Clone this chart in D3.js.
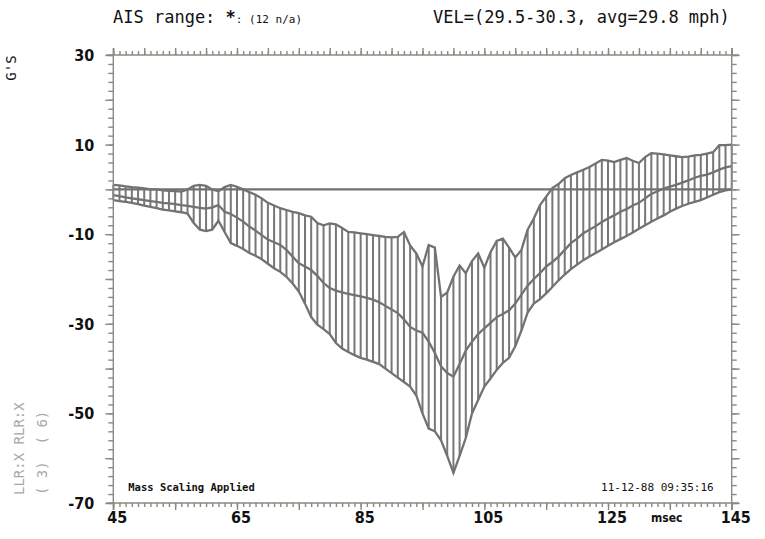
<!DOCTYPE html>
<html>
<head>
<meta charset="utf-8">
<script src="https://cdn.jsdelivr.net/npm/d3@7"></script>
<style>
  body { margin: 0; background: #fff; }
  svg { display: block; }
  .axis path, .axis line { stroke: #8a8a80; stroke-width: 1.4; }
  .band { fill: none; stroke: #727272; stroke-width: 2.3; }
  .hatch { stroke: #777; stroke-width: 2; }
  .lbl { font-family: "DejaVu Sans Condensed", "DejaVu Sans", sans-serif; font-weight: bold; font-size: 16px; fill: #111; }
  .mono { font-family: "DejaVu Sans Mono", monospace; fill: #111; }
</style>
</head>
<body>
<script>
// set the dimensions and margins of the graph
var W = 765, H = 539;
var margin = {top: 55, right: 33.3, bottom: 36, left: 113.3},
    width = W - margin.left - margin.right,
    height = H - margin.top - margin.bottom;

// time in msec (one sample per msec)
var msec = d3.range(45, 146);

// upper edge of the corridor (G's)
var upper = [1.0, 0.9, 0.7, 0.5, 0.4, 0.2, 0.0, 0.0, -0.2, -0.3,
  -0.4, -0.5, 0.0, 0.8, 1.0, 0.8, 0.0, -0.4, 0.5, 1.0,
  0.6, 0.0, -0.6, -1.2, -2.0, -3.0, -3.6, -4.2, -4.6, -5.0,
  -5.3, -5.8, -6.1, -7.5, -8.0, -7.6, -7.8, -8.6, -9.5, -9.6,
  -9.8, -10.0, -10.2, -10.4, -10.6, -10.7, -10.6, -9.5, -12.5, -14.3,
  -17.2, -12.4, -13.0, -24.0, -23.0, -19.5, -17.0, -18.7, -16.0, -14.3,
  -17.5, -14.0, -11.5, -11.0, -13.0, -15.2, -13.5, -9.0, -6.5, -3.5,
  -1.6, 0.3, 1.2, 2.5, 3.2, 3.8, 4.4, 5.0, 5.8, 6.6,
  6.4, 6.1, 6.6, 7.0, 6.4, 5.9, 7.2, 8.1, 8.0, 7.8,
  7.6, 7.4, 7.2, 7.3, 7.6, 7.7, 8.0, 8.3, 9.9, 9.9, 10.0];

// middle trace
var middle = [-1.3, -1.5, -1.8, -2.0, -2.2, -2.4, -2.6, -2.8, -3.0, -3.1,
  -3.3, -3.5, -3.7, -3.9, -4.1, -4.3, -4.0, -3.5, -5.0, -5.5,
  -6.3, -7.2, -8.3, -9.2, -10.2, -11.2, -11.8, -12.4, -13.5, -15.0,
  -16.5, -17.2, -18.0, -19.3, -20.9, -22.0, -22.6, -23.0, -23.3, -23.6,
  -23.9, -24.2, -24.6, -25.2, -26.0, -26.8, -27.6, -29.0, -30.7, -31.5,
  -32.0, -34.0, -36.5, -39.5, -41.0, -41.8, -39.0, -36.0, -34.0, -32.3,
  -31.0, -29.8, -28.5, -27.8, -27.0, -25.5, -23.5, -21.5, -20.0, -18.7,
  -17.2, -16.2, -15.0, -13.5, -12.0, -11.0, -9.8, -9.0, -8.2, -7.3,
  -6.5, -5.8, -5.0, -4.4, -3.6, -3.0, -2.0, -1.0, -0.4, 0.2,
  0.6, 1.0, 1.5, 2.0, 2.6, 3.0, 3.3, 3.8, 4.4, 4.9, 5.2];

// lower edge of the corridor
var lower = [-2.4, -2.6, -2.8, -3.0, -3.3, -3.6, -3.9, -4.2, -4.5, -4.7,
  -4.9, -5.1, -5.4, -7.5, -9.0, -9.3, -9.0, -7.0, -9.5, -12.0,
  -12.6, -13.3, -14.2, -14.8, -15.6, -16.6, -17.6, -18.4, -19.5, -21.0,
  -22.8, -25.5, -28.5, -30.2, -31.2, -32.3, -34.3, -35.5, -36.3, -37.0,
  -37.6, -38.0, -38.5, -39.0, -40.0, -41.0, -42.0, -43.0, -44.0, -46.0,
  -50.0, -53.4, -54.0, -56.0, -59.5, -63.3, -59.5, -55.5, -50.0, -47.0,
  -44.0, -42.2, -40.3, -38.7, -37.6, -35.0, -31.5, -27.5, -25.5, -24.5,
  -23.2, -21.8, -20.3, -19.0, -17.8, -16.8, -15.8, -15.0, -14.2, -13.4,
  -12.6, -11.8, -11.1, -10.4, -9.6, -8.8, -8.0, -7.2, -6.5, -5.8,
  -5.0, -4.3, -3.7, -3.2, -2.8, -2.4, -1.8, -1.2, -0.6, -0.2, 0.0];

var xLabels = [45, 65, 85, 105, 125, 145];
var yLabels = [30, 10, -10, -30, -50, -70];

// set the ranges
var x = d3.scaleLinear().domain([45, 145]).range([0, width]);
var y = d3.scaleLinear().domain([-70, 30]).range([height, 0]);

var root = d3.select("body").append("svg")
    .attr("width", W)
    .attr("height", H);

var svg = root.append("g")
    .attr("transform", "translate(" + margin.left + "," + margin.top + ")");

var data = msec.map(function(t, i) {
    return {t: t, hi: upper[i], mid: middle[i], lo: lower[i]};
});

// vertical hatching between the two edges
svg.selectAll(".hatch")
    .data(data)
    .enter().append("line")
    .attr("class", "hatch")
    .attr("x1", function(d) { return x(d.t); })
    .attr("x2", function(d) { return x(d.t); })
    .attr("y1", function(d) { return y(d.hi); })
    .attr("y2", function(d) { return y(d.lo); });

// zero line
svg.append("line")
    .attr("class", "band")
    .attr("x1", x(45)).attr("x2", x(145))
    .attr("y1", y(0)).attr("y2", y(0));

["hi", "mid", "lo"].forEach(function(k) {
    svg.append("path")
        .datum(data)
        .attr("class", "band")
        .attr("d", d3.line()
            .x(function(d) { return x(d.t); })
            .y(function(d) { return y(d[k]); }));
});

// axes: minor + major ticks, all pointing outward
function ticks(axisFn, scale, step, size, tr) {
    var dom = scale.domain();
    var lo = Math.min(dom[0], dom[1]), hi = Math.max(dom[0], dom[1]);
    var g = svg.append("g")
        .attr("class", "axis")
        .attr("transform", tr || null)
        .call(axisFn(scale)
            .tickValues(d3.range(lo, hi + 0.001, step))
            .tickSize(size)
            .tickSizeOuter(0)
            .tickFormat(""));
    g.select(".domain").remove();
}

ticks(d3.axisTop, x, 1, 4);
ticks(d3.axisTop, x, 5, 7);
ticks(d3.axisBottom, x, 1, 4, "translate(0," + height + ")");
ticks(d3.axisBottom, x, 10, 7, "translate(0," + height + ")");
ticks(d3.axisLeft, y, 2, 5);
ticks(d3.axisLeft, y, 10, 8);
ticks(d3.axisRight, y, 2, 5, "translate(" + width + ",0)");
ticks(d3.axisRight, y, 10, 8, "translate(" + width + ",0)");

// frame, a little overhang at the corners
var ov = 7;
var frame = svg.append("g").attr("class", "axis");
frame.append("line").attr("x1", -ov).attr("x2", width + ov).attr("y1", 0).attr("y2", 0);
frame.append("line").attr("x1", -ov).attr("x2", width + ov).attr("y1", height).attr("y2", height);
frame.append("line").attr("x1", 0).attr("x2", 0).attr("y1", -ov).attr("y2", height + ov);
frame.append("line").attr("x1", width).attr("x2", width).attr("y1", -ov).attr("y2", height + ov);

// tick labels
svg.selectAll(".xl")
    .data(xLabels)
    .enter().append("text")
    .attr("class", "lbl")
    .attr("x", function(d) { return x(d) + 4; })
    .attr("y", height + 20)
    .attr("text-anchor", "middle")
    .text(function(d) { return d; });

svg.selectAll(".yl")
    .data(yLabels)
    .enter().append("text")
    .attr("class", "lbl")
    .attr("x", -19)
    .attr("y", function(d) { return y(d) + 6; })
    .attr("text-anchor", "end")
    .text(function(d) { return d; });

svg.append("text")
    .attr("class", "lbl")
    .style("font-size", "12px")
    .attr("x", x(134.5))
    .attr("y", height + 19)
    .attr("text-anchor", "middle")
    .text("msec");

// annotations inside the plot
svg.append("text")
    .attr("class", "mono")
    .style("font-size", "10.5px").style("font-weight", "bold")
    .attr("x", 15).attr("y", y(-67.4))
    .text("Mass Scaling Applied");

svg.append("text")
    .attr("class", "mono")
    .style("font-size", "11px")
    .attr("x", width - 18).attr("y", y(-67.4))
    .attr("text-anchor", "end")
    .text("11-12-88  09:35:16");

// titles
var t1 = root.append("text")
    .attr("class", "mono")
    .attr("x", 113).attr("y", 23)
    .style("font-size", "17px");
t1.append("tspan").text("AIS range: ");
t1.append("tspan").style("font-weight", "bold").text("*");
t1.append("tspan").style("font-size", "11px").text(": (12 n/a)");

root.append("text")
    .attr("class", "mono")
    .attr("x", 433).attr("y", 23)
    .style("font-size", "17px")
    .text("VEL=(29.5-30.3, avg=29.8 mph)");

// rotated side labels
root.append("text")
    .attr("class", "mono")
    .style("font-size", "14px")
    .attr("transform", "translate(16,68) rotate(-90)")
    .attr("text-anchor", "middle")
    .text("G'S");

root.append("text")
    .attr("class", "mono")
    .style("font-size", "14px").style("fill", "#a8a8a8")
    .attr("transform", "translate(24,495) rotate(-90)")
    .attr("xml:space", "preserve")
    .text("LLR:X RLR:X");

root.append("text")
    .attr("class", "mono")
    .style("font-size", "14px").style("fill", "#a8a8a8")
    .attr("transform", "translate(47,495) rotate(-90)")
    .attr("xml:space", "preserve")
    .text("( 3)  ( 6)");
</script>
</body>
</html>
